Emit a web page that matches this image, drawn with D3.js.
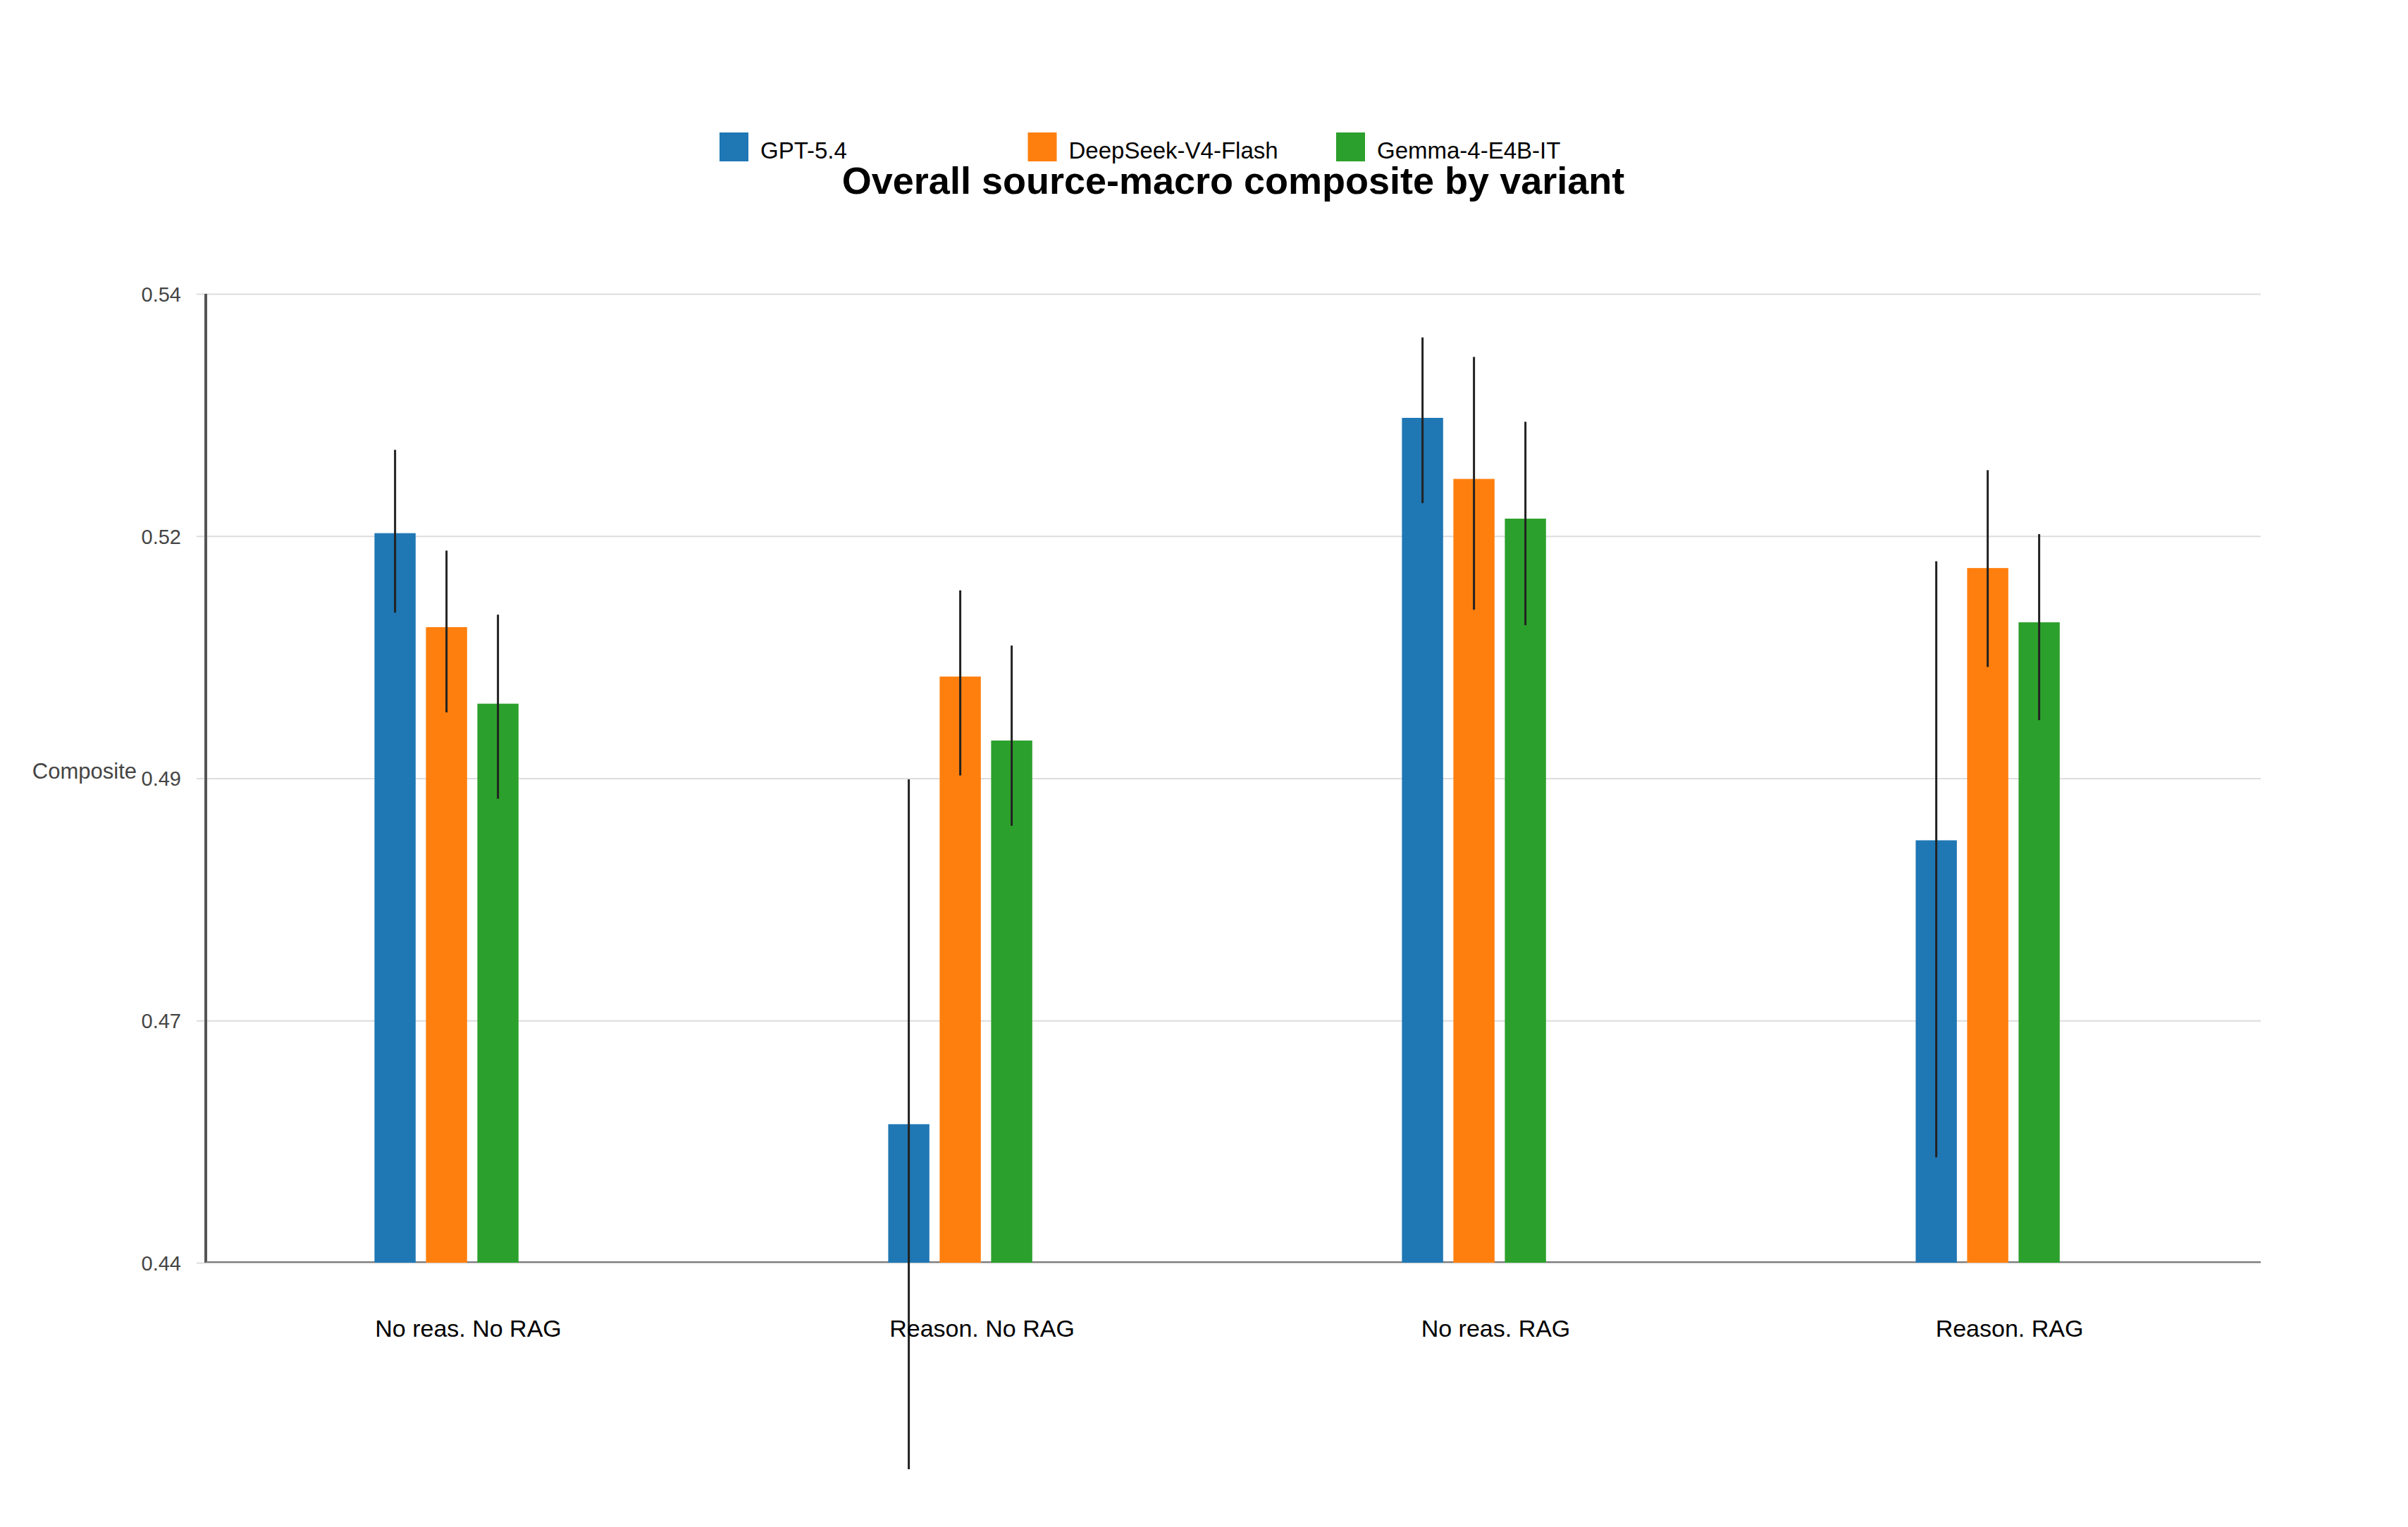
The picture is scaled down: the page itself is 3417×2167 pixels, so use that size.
<!DOCTYPE html>
<html>
<head>
<meta charset="utf-8">
<script src="https://cdn.jsdelivr.net/npm/d3@7"></script>
<style>
  html, body { margin: 0; padding: 0; background: #fff; }
  svg { display: block; font-family: "Liberation Sans", Arial, Helvetica, sans-serif; }
</style>
</head>
<body>
<svg id="chart" width="3417" height="2167"></svg>
<script>
// ---- data ----
const categories = ["No reas. No RAG", "Reason. No RAG", "No reas. RAG", "Reason. RAG"];
const seriesNames = ["GPT-5.4", "DeepSeek-V4-Flash", "Gemma-4-E4B-IT"];
const seriesColors = ["#1f77b4", "#ff7f0e", "#2ca02c"];

const gptValues      = [0.5153, 0.4543, 0.5272, 0.4836];
const gptLow         = [0.5071, 0.4187, 0.5184, 0.4509];
const gptHigh        = [0.5239, 0.4899, 0.5355, 0.5124];

const deepseekValues = [0.5056, 0.5005, 0.5209, 0.5117];
const deepseekLow    = [0.4968, 0.4903, 0.5074, 0.5015];
const deepseekHigh   = [0.5135, 0.5094, 0.5335, 0.5218];

const gemmaValues    = [0.4977, 0.4939, 0.5168, 0.5061];
const gemmaLow       = [0.4879, 0.4851, 0.5058, 0.4960];
const gemmaHigh      = [0.5069, 0.5037, 0.5268, 0.5152];

const yTickValues = [0.44, 0.465, 0.49, 0.515, 0.54];
const yTickLabels = ["0.44", "0.47", "0.49", "0.52", "0.54"];

const titleText = "Overall source-macro composite by variant";
const yAxisTitle = "Composite";

// ---- build table ----
const seriesData = [
  { name: seriesNames[0], values: gptValues, low: gptLow, high: gptHigh },
  { name: seriesNames[1], values: deepseekValues, low: deepseekLow, high: deepseekHigh },
  { name: seriesNames[2], values: gemmaValues, low: gemmaLow, high: gemmaHigh }
];
const rows = [];
categories.forEach((c, ci) => {
  seriesData.forEach((s) => {
    rows.push({ cat: c, series: s.name, value: s.values[ci], low: s.low[ci], high: s.high[ci] });
  });
});

// ---- layout ----
const plotLeft = 292, plotRight = 3208, plotTop = 417, plotBottom = 1792;
const svg = d3.select("#chart");

const x0 = d3.scaleBand().domain(categories).range([plotLeft, plotRight]).padding(0);
const groupStart = 239.4, groupWidth = 204.4;
const x1 = d3.scaleBand().domain(seriesNames).range([groupStart, groupStart + groupWidth]).paddingInner(0.2).paddingOuter(0);
const y = d3.scaleLinear().domain([0.44, 0.54]).range([plotBottom, plotTop]);
const color = d3.scaleOrdinal().domain(seriesNames).range(seriesColors);

// gridlines + y tick labels via axis
const yAxis = d3.axisLeft(y)
  .tickValues(yTickValues)
  .tickFormat((d, i) => yTickLabels[i])
  .tickSize(-(plotRight - plotLeft + 13))
  .tickPadding(22);

const gy = svg.append("g")
  .attr("transform", `translate(${plotLeft - 13},0)`)
  .call(yAxis);
gy.select(".domain").remove();
gy.selectAll(".tick line")
  .attr("stroke", "#dddddd")
  .attr("stroke-width", 2);
gy.selectAll(".tick text")
  .attr("fill", "#444")
  .attr("font-size", 29)
  .attr("font-family", "Liberation Sans, Arial, sans-serif")
  .attr("x", -22)
  .attr("dy", "0.36em");

// y axis line
svg.append("line")
  .attr("x1", plotLeft).attr("x2", plotLeft)
  .attr("y1", y(0.54)).attr("y2", y(0.44))
  .attr("stroke", "#555").attr("stroke-width", 4);

// x axis line
svg.append("line")
  .attr("x1", plotLeft).attr("x2", plotRight)
  .attr("y1", y(0.44) - 1).attr("y2", y(0.44) - 1)
  .attr("stroke", "#777").attr("stroke-width", 2);

// bars
const bars = svg.append("g");
bars.selectAll("rect")
  .data(rows)
  .join("rect")
  .attr("x", d => x0(d.cat) + x1(d.series))
  .attr("width", x1.bandwidth())
  .attr("y", d => y(d.value))
  .attr("height", d => y(0.44) - y(d.value))
  .attr("fill", d => color(d.series));

// error bars
svg.append("g").selectAll("line")
  .data(rows)
  .join("line")
  .attr("x1", d => x0(d.cat) + x1(d.series) + x1.bandwidth() / 2)
  .attr("x2", d => x0(d.cat) + x1(d.series) + x1.bandwidth() / 2)
  .attr("y1", d => y(d.high))
  .attr("y2", d => y(d.low))
  .attr("stroke", "#222")
  .attr("stroke-width", 3);

// x axis labels
const xAxis = d3.axisBottom(x0).tickSize(0).tickPadding(0);
const gx = svg.append("g")
  .attr("transform", `translate(0,${plotBottom})`)
  .call(xAxis);
gx.select(".domain").remove();
gx.selectAll(".tick text")
  .attr("fill", "#000")
  .attr("font-size", 34)
  .attr("font-family", "Liberation Sans, Arial, sans-serif")
  .attr("x", 8)
  .attr("y", 105)
  .attr("dy", 0);

// y axis title
svg.append("text")
  .attr("x", 194).attr("y", 1105)
  .attr("text-anchor", "end")
  .attr("font-size", 31)
  .attr("fill", "#444")
  .text(yAxisTitle);

// title
svg.append("text")
  .attr("x", (plotLeft + plotRight) / 2).attr("y", 275)
  .attr("text-anchor", "middle")
  .attr("font-size", 54)
  .attr("font-weight", "bold")
  .attr("fill", "#000")
  .text(titleText);

// legend
const legend = svg.append("g");
const legItems = legend.selectAll("g")
  .data(seriesNames)
  .join("g")
  .attr("transform", (d, i) => `translate(${1021 + i * 437.5},188)`);
legItems.append("rect")
  .attr("width", 41).attr("height", 41)
  .attr("fill", d => color(d));
legItems.append("text")
  .attr("x", 58).attr("y", 37)
  .attr("font-size", 33)
  .attr("fill", "#000")
  .text(d => d);
</script>
</body>
</html>
